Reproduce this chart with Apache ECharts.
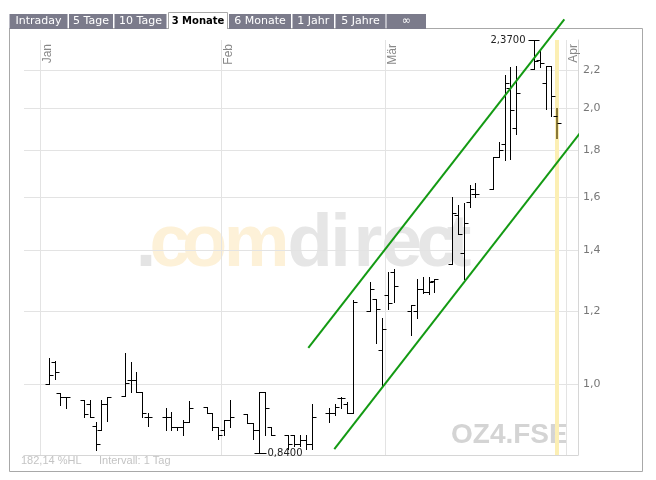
<!DOCTYPE html>
<html><head><meta charset="utf-8">
<script src="https://cdn.jsdelivr.net/npm/echarts@6/dist/echarts.min.js"></script>
<style>html,body{margin:0;padding:0;background:#fff}#c{width:656px;height:480px}</style>
</head><body><div id="c"></div>
<script>
// ---- data ----
const dates = [
 '2007-01-02','2007-01-03','2007-01-04','2007-01-05','2007-01-08','2007-01-09','2007-01-10','2007-01-11','2007-01-12',
 '2007-01-15','2007-01-16','2007-01-17','2007-01-18','2007-01-19','2007-01-22','2007-01-23','2007-01-24','2007-01-25','2007-01-26',
 '2007-01-29','2007-01-30','2007-01-31','2007-02-01','2007-02-02','2007-02-05','2007-02-06','2007-02-07','2007-02-08','2007-02-09',
 '2007-02-12','2007-02-13','2007-02-14','2007-02-15','2007-02-16','2007-02-19','2007-02-20','2007-02-21','2007-02-22','2007-02-23',
 '2007-02-26','2007-02-27','2007-02-28','2007-03-01','2007-03-02','2007-03-05','2007-03-06','2007-03-07','2007-03-08','2007-03-09',
 '2007-03-12','2007-03-13','2007-03-14','2007-03-15','2007-03-16','2007-03-19','2007-03-20','2007-03-21','2007-03-22','2007-03-23',
 '2007-03-26','2007-03-27','2007-03-28','2007-03-29','2007-03-30'];
const open = [1.000,1.056,0.979,0.969,0.961,0.950,0.901,0.891,0.951,
 0.970,1.010,1.010,0.981,0.920,0.920,0.920,0.898,0.898,0.910,
 0.943,0.929,0.898,0.891,0.914,0.927,0.907,0.891,0.981,0.898,
 0.880,0.880,0.860,0.869,0.860,0.930,0.930,0.965,0.951,0.929,
 1.201,1.240,1.089,1.251,1.326,1.202,1.202,1.270,1.261,1.295,
 1.354,1.529,1.391,1.581,1.612,1.632,1.770,1.831,2.104,1.904,
 2.210,2.260,2.132,2.225,1.962];
const high = [1.069,1.060,0.979,0.969,0.961,0.961,0.910,0.961,0.969,
 1.080,1.058,1.031,0.981,0.929,0.941,0.931,0.898,0.914,0.959,
 0.943,0.929,0.898,0.914,0.961,0.927,0.907,0.981,0.981,0.898,
 0.880,0.880,0.880,0.880,0.951,0.941,0.950,0.969,0.957,1.237,
 1.293,1.240,1.180,1.326,1.334,1.219,1.304,1.309,1.309,1.301,
 1.601,1.568,1.575,1.649,1.658,1.770,1.838,2.178,2.219,2.225,
 2.370,2.315,2.225,2.225,2.000];
const low = [0.999,1.012,0.949,0.941,0.921,0.920,0.847,0.891,0.911,
 0.970,0.981,0.981,0.921,0.900,0.891,0.891,0.891,0.880,0.910,
 0.929,0.891,0.870,0.880,0.898,0.907,0.870,0.840,0.880,0.880,
 0.849,0.856,0.856,0.849,0.849,0.910,0.925,0.941,0.929,0.929,
 1.201,1.109,0.997,1.209,1.230,1.131,1.180,1.258,1.255,1.261,
 1.354,1.460,1.301,1.561,1.601,1.632,1.770,1.756,1.763,1.877,
 2.210,2.219,1.999,1.962,1.857];
const close = [1.023,1.030,0.969,0.969,0.927,0.920,0.860,0.951,0.969,
 1.002,1.010,0.981,0.929,0.920,0.920,0.898,0.898,0.910,0.941,
 0.929,0.898,0.880,0.914,0.920,0.907,0.891,0.981,0.941,0.880,
 0.860,0.860,0.869,0.860,0.920,0.930,0.945,0.965,0.929,1.230,
 1.270,1.209,1.150,1.226,1.279,1.219,1.270,1.261,1.293,1.301,
 1.539,1.460,1.501,1.635,1.612,1.770,1.800,2.132,1.990,2.081,
 2.251,2.240,2.225,2.062,1.930];
const yTicks = [1.0, 1.2, 1.4, 1.6, 1.8, 2.0, 2.2];
const monthTicks = ['2007-01-01','2007-02-01','2007-03-01','2007-04-01'];
const monthNames = ['Jan','Feb','Mär','Apr'];
const upperChannel = [['2007-02-15T21:50', 1.0955], ['2007-03-31T17:15', 2.502]];
const lowerChannel = [['2007-02-20T08:40', 0.849], ['2007-04-05T03:50', 1.943]];
const tabs = ['Intraday','5 Tage','10 Tage','3 Monate','6 Monate','1 Jahr','5 Jahre','\u221E'];
const selectedTab = 3;
const symbolText = 'OZ4.FSE';
const infoText1 = '182,14 %HL';
const infoText2 = 'Intervall: 1 Tag';

// ---- helpers ----
const DAY = 864e5;
const ts = s => Date.parse(s.length === 10 ? s + 'T00:00:00Z' : s + ':00Z');
const barData = dates.map((d, i) => [ts(d) + DAY / 2, open[i], high[i], low[i], close[i]]);
const maxIdx = high.indexOf(Math.max(...high));
const minIdx = low.indexOf(Math.min(...low));
const lastIdx = dates.length - 1;
const fmt4 = v => v.toFixed(4).replace('.', ',');
const xMin = Date.UTC(2006, 11, 29, 6, 18);
const xMax = Date.UTC(2007, 3, 3, 1, 25);
const gridCol = '#e3e3e3';

function renderBar(params, api) {
  const i = params.dataIndex;
  const t = api.value(0);
  const pO = api.coord([t, api.value(1)]);
  const pH = api.coord([t, api.value(2)]);
  const pL = api.coord([t, api.value(3)]);
  const pC = api.coord([t, api.value(4)]);
  const x = Math.round(pH[0]) + 0.5;
  const sy = y => Math.round(y) + 0.5;
  const isLast = i === lastIdx;
  const col = '#000';
  const children = [
    {type: 'line', shape: {x1: isLast ? x - 0.5 : x, y1: Math.round(pH[1]), x2: isLast ? x - 0.5 : x, y2: Math.round(pL[1]) + 1},
     style: {stroke: isLast ? '#8a7838' : col, lineWidth: isLast ? 2 : 1}},
    {type: 'line', shape: {x1: x - 4, y1: sy(pO[1]), x2: x, y2: sy(pO[1])}, style: {stroke: col, lineWidth: 1}},
    {type: 'line', shape: {x1: x, y1: sy(pC[1]), x2: x + 4, y2: sy(pC[1])}, style: {stroke: col, lineWidth: 1}}
  ];
  if (i === maxIdx) {
    const y = sy(pH[1]) - 1;
    children.push({type: 'line', shape: {x1: x - 6, y1: y, x2: x + 5, y2: y}, style: {stroke: col, lineWidth: 1}});
    children.push({type: 'text', x: x - 9, y: y, style: {text: fmt4(high[i]), font: '10px "DejaVu Sans"', fill: '#222', align: 'right', verticalAlign: 'middle'}});
  }
  if (i === minIdx) {
    const y = sy(pL[1]);
    children.push({type: 'line', shape: {x1: x - 5, y1: y, x2: x + 7, y2: y}, style: {stroke: col, lineWidth: 1}});
    children.push({type: 'text', x: x + 8, y: y, style: {text: fmt4(low[i]), font: '10px "DejaVu Sans"', fill: '#222', align: 'left', verticalAlign: 'middle'}});
  }
  return {type: 'group', children};
}

// ---- decorations ----
const graphics = [];
graphics.push({type: 'rect', z: 1, shape: {x: 9.5, y: 28.5, width: 633, height: 443}, style: {fill: 'none', stroke: '#a8a8a8', lineWidth: 1}, silent: true});
const tabX = [[9.5, 67.5], [69, 113], [114.5, 166.5], [168, 228], [229, 291], [292.5, 334], [335.5, 385.5], [386.5, 426]];
tabs.forEach((name, i) => {
  const [a, b] = tabX[i];
  if (i === selectedTab) {
    graphics.push({type: 'rect', z: 3, shape: {x: a, y: 12, width: b - a, height: 17.5}, style: {fill: '#fff'}, silent: true});
    graphics.push({type: 'polyline', z: 4, shape: {points: [[a + 0.5, 29], [a + 0.5, 12.5], [b - 0.5, 12.5], [b - 0.5, 29]]}, style: {stroke: '#a8a8a8', fill: 'none', lineWidth: 1}, silent: true});
    graphics.push({type: 'text', z: 5, x: (a + b) / 2, y: 21.5, style: {text: name, font: 'bold 10px "DejaVu Sans"', fill: '#000', align: 'center', verticalAlign: 'middle'}, silent: true});
  } else {
    graphics.push({type: 'rect', z: 3, shape: {x: a, y: 14, width: b - a, height: 15}, style: {fill: '#7b7b8b'}, silent: true});
    graphics.push({type: 'text', z: 5, x: (a + b) / 2, y: 21.5, style: {text: name, font: '11px "DejaVu Sans"', fill: '#fff', align: 'center', verticalAlign: 'middle'}, silent: true});
  }
});
// watermark .comdirect
const wm = [['.', 146, '#e4e4e4'], ['c', 170, '#fdf1d8'], ['o', 204.7, '#fdf1d8'], ['m', 256.7, '#fdf1d8'],
            ['d', 310, '#e6e6e6'], ['i', 340.5, '#e6e6e6'], ['r', 368, '#e6e6e6'], ['e', 401.7, '#e6e6e6'], ['c', 437, '#e6e6e6'], ['t', 459, '#e6e6e6']];
wm.forEach(([ch, cx, fill]) => {
  graphics.push({type: 'text', z: -10, x: cx, y: 246, style: {text: ch, font: 'bold 74px "Liberation Sans"', fill, align: 'center', verticalAlign: 'middle'}, silent: true});
});
graphics.push({type: 'text', z: -10, x: 451, y: 435, style: {text: symbolText, font: 'bold 28px "Liberation Sans"', fill: '#d4d4d4', align: 'left', verticalAlign: 'middle'}, silent: true});
graphics.push({type: 'text', z: 2, x: 21, y: 460.5, style: {text: infoText1, font: '11px "Liberation Sans"', fill: '#c4c4c4', align: 'left', verticalAlign: 'middle'}, silent: true});
graphics.push({type: 'text', z: 2, x: 99, y: 460.5, style: {text: infoText2, font: '11px "Liberation Sans"', fill: '#c4c4c4', align: 'left', verticalAlign: 'middle'}, silent: true});

const chart = echarts.init(document.getElementById('c'), null, {renderer: 'canvas'});
chart.setOption({
  animation: false,
  backgroundColor: '#fff',
  graphic: {elements: graphics},
  grid: {left: 24, right: 78, top: 40, bottom: 25, containLabel: false},
  xAxis: {
    type: 'time', position: 'bottom', min: xMin, max: xMax,
    axisLine: {show: true, lineStyle: {color: '#d6d6d6'}}, axisTick: {show: false}, axisLabel: {show: false}, splitLine: {show: false}
  },
  yAxis: {
    type: 'log', logBase: 10, min: 0.8366, max: 2.376, position: 'right',
    axisLine: {show: true, lineStyle: {color: '#d6d6d6'}}, axisTick: {show: false}, axisLabel: {show: false}, splitLine: {show: false}
  },
  series: [{
    type: 'line', data: [], z: 1, silent: true,
    markLine: {
      silent: true, symbol: 'none', animation: false,
      lineStyle: {color: gridCol, width: 1, type: 'solid'},
      label: {show: true, position: 'end', distance: 5, color: '#777', fontSize: 11, fontFamily: 'DejaVu Sans',
        formatter: p => p.value.toFixed(1).replace('.', ',')},
      data: yTicks.map(v => ({yAxis: v}))
    }
  }, {
    type: 'line', data: [], z: 1, silent: true,
    markLine: {
      silent: true, symbol: 'none', animation: false,
      lineStyle: {color: gridCol, width: 1, type: 'solid'},
      label: {show: true, position: 'insideEndBottom', distance: [4, 2], color: '#888', fontSize: 12, fontFamily: 'Liberation Sans',
        formatter: p => monthNames[new Date(p.value).getUTCMonth()]},
      data: monthTicks.map(s => ({xAxis: ts(s)}))
    }
  }, {
    type: 'line', data: [], z: 2, silent: true,
    markLine: {
      silent: true, symbol: 'none', animation: false, label: {show: false},
      lineStyle: {color: '#fcefb4', width: 4, type: 'solid'},
      data: [{xAxis: barData[lastIdx][0]}]
    }
  }, {
    type: 'custom', name: 'OHLC', data: barData, z: 5, clip: false, silent: true,
    encode: {x: 0, y: [1, 2, 3, 4]},
    renderItem: renderBar
  }, {
    type: 'line', data: upperChannel.map(p => [ts(p[0]), p[1]]), z: 6, clip: false, silent: true,
    symbol: 'none', lineStyle: {color: '#139a13', width: 2}
  }, {
    type: 'line', data: lowerChannel.map(p => [ts(p[0]), p[1]]), z: 6, clip: false, silent: true,
    symbol: 'none', lineStyle: {color: '#139a13', width: 2}
  }]
});
</script></body></html>
